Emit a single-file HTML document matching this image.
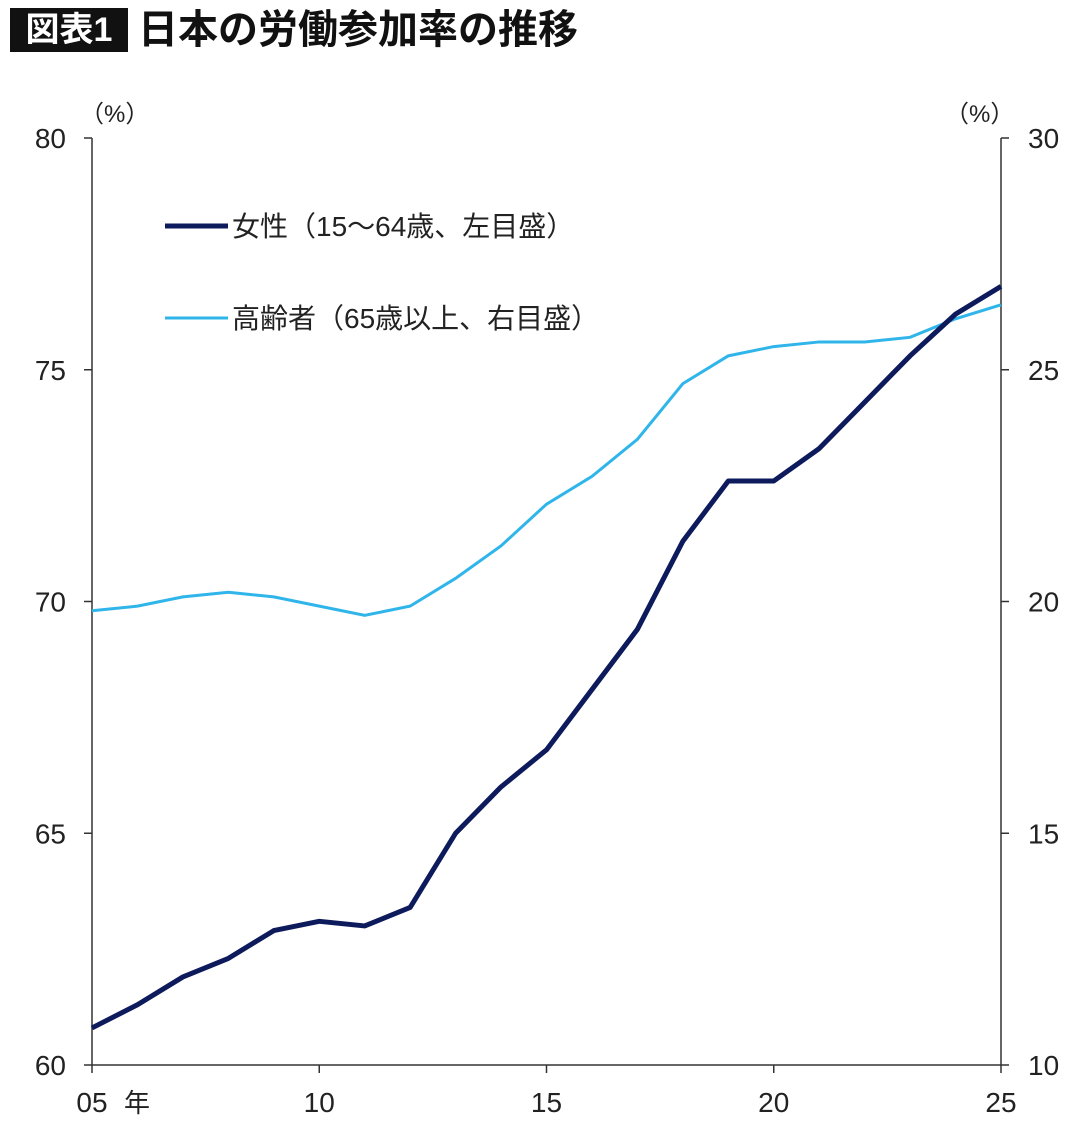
<!DOCTYPE html>
<html><head><meta charset="utf-8"><style>
body{margin:0;background:#fff;width:1080px;height:1132px;overflow:hidden;font-family:"Liberation Sans","Noto Sans CJK JP",sans-serif}
#title-tag{position:absolute;left:10px;top:8px;width:118px;height:44px;background:#111;color:#fff;font-size:34px;font-weight:bold;line-height:44px;text-align:center}
#title{position:absolute;left:138px;top:4px;font-size:40px;font-weight:bold;color:#111;line-height:52px}
svg{position:absolute;left:0;top:0}
text{font-family:"Liberation Sans","Noto Sans CJK JP",sans-serif;fill:#222}
</style></head><body>
<div id="title-tag">図表1</div>
<div id="title">日本の労働参加率の推移</div>
<svg id="chart" width="1080" height="1132"></svg>
<script>
const years=[2005,2006,2007,2008,2009,2010,2011,2012,2013,2014,2015,2016,2017,2018,2019,2020,2021,2022,2023,2024,2025];
const women=[60.8,61.3,61.9,62.3,62.9,63.1,63.0,63.4,65.0,66.0,66.8,68.1,69.4,71.3,72.6,72.6,73.3,74.3,75.3,76.2,76.8];
const elderly=[19.8,19.9,20.1,20.2,20.1,19.9,19.7,19.9,20.5,21.2,22.1,22.7,23.5,24.7,25.3,25.5,25.6,25.6,25.7,26.1,26.4];
const leftTicks=[60,65,70,75,80];
const rightTicks=[10,15,20,25,30];
const xTicks=[2005,2010,2015,2020,2025];
const xTickLabels=["05","10","15","20","25"];
const NS="http://www.w3.org/2000/svg";
const svg=document.getElementById('chart');
const X0=92,X1=1001,Y0=1065,Y1=138;
const x=v=>X0+(v-2005)/20*(X1-X0);
const yL=v=>Y0-(v-60)/20*(Y0-Y1);
const yR=v=>Y0-(v-10)/20*(Y0-Y1);
function mk(t,a){const e=document.createElementNS(NS,t);for(const k in a)e.setAttribute(k,a[k]);svg.appendChild(e);return e;}
let e;
e=mk('line',{x1:X0,y1:Y1,x2:X0,y2:Y0,stroke:'#333','stroke-width':1.5});


e=mk('line',{x1:X1,y1:Y1,x2:X1,y2:Y0,stroke:'#333','stroke-width':1.5});


e=mk('line',{x1:X0,y1:Y0,x2:X1,y2:Y0,stroke:'#333','stroke-width':1.5});


leftTicks.forEach(v=>{
 mk('line',{x1:X0,y1:yL(v),x2:X0-8,y2:yL(v),stroke:'#333','stroke-width':1.5});
 e=mk('text',{x:66,y:yL(v)+10,'font-size':28,'text-anchor':'end'});e.textContent=v;
 
 
});
rightTicks.forEach(v=>{
 mk('line',{x1:X1,y1:yR(v),x2:X1+8,y2:yR(v),stroke:'#333','stroke-width':1.5});
 e=mk('text',{x:1028,y:yR(v)+10,'font-size':28});e.textContent=v;
 
 
});
xTicks.forEach((v,i)=>{
 mk('line',{x1:x(v),y1:Y0,x2:x(v),y2:Y0+8,stroke:'#333','stroke-width':1.5});
 e=mk('text',{x:x(v),y:1112,'font-size':28,'text-anchor':'middle'});e.textContent=xTickLabels[i];
 
 
});
e=mk('text',{x:124,y:1112,'font-size':26});e.textContent='年';


e=mk('text',{x:80,y:122,'font-size':24});e.textContent='（%）';


e=mk('text',{x:945,y:122,'font-size':24});e.textContent='（%）';


e=mk('polyline',{points:years.map((yr,i)=>x(yr)+','+yR(elderly[i])).join(' '),fill:'none',stroke:'#2fb5ea','stroke-width':3});


e=mk('polyline',{points:years.map((yr,i)=>x(yr)+','+yL(women[i])).join(' '),fill:'none',stroke:'#0d1a5c','stroke-width':5,'stroke-linejoin':'round'});


e=mk('line',{x1:165,y1:226,x2:228,y2:226,stroke:'#0d1a5c','stroke-width':5});


e=mk('text',{x:232,y:236,'font-size':28});e.textContent='女性（15～64歳、左目盛）';


e=mk('line',{x1:165,y1:318,x2:228,y2:318,stroke:'#2fb5ea','stroke-width':3});


e=mk('text',{x:232,y:328,'font-size':28});e.textContent='高齢者（65歳以上、右目盛）';


</script>
</body></html>
